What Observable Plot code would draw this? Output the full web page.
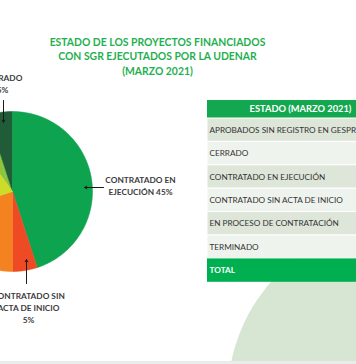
<!DOCTYPE html>
<html><head><meta charset="utf-8">
<script src="https://cdn.jsdelivr.net/npm/d3@7"></script>
<script src="https://cdn.jsdelivr.net/npm/@observablehq/plot@0.6"></script>
<style>html,body{margin:0;padding:0;background:#fff} svg{display:block}</style>
</head><body><div id="chart"></div>
<script>
// ---- data ----
const titleLines = ["ESTADO DE LOS PROYECTOS FINANCIADOS", "CON SGR EJECUTADOS POR LA UDENAR", "(MARZO 2021)"];
const categories = ["APROBADOS SIN REGISTRO EN GESPROY", "CERRADO", "CONTRATADO EN EJECUCIÓN", "CONTRATADO SIN ACTA DE INICIO", "EN PROCESO DE CONTRATACIÓN", "TERMINADO"];
const shares = [5, 5, 45, 5, 20, 20];
const sliceColors = ["#8cc63f", "#1f5c37", "#0ea34f", "#ee4b24", "#f58220", "#cddc29"];
const tableHeader = "ESTADO (MARZO 2021)";
const totalLabel = "TOTAL";
const pieLabelText = {1: "CERRADO\n5%", 2: "CONTRATADO EN\nEJECUCIÓN 45%", 3: "CONTRATADO SIN\nACTA DE INICIO\n5%"};

// ---- layout ----
const W = 356, H = 364;
const cx = 12, cy = 191, R = 80;
const font = "Lato, 'Open Sans', sans-serif";

const pie = d3.pie().sort(null).value(d => d)
  .startAngle(-0.2 * Math.PI).endAngle(1.8 * Math.PI)(shares);

const slicePts = pie.map((s, i) => {
  const pts = [{x: cx, y: cy, k: i}];
  const n = Math.max(2, Math.ceil((s.endAngle - s.startAngle) / (Math.PI / 180)));
  for (let j = 0; j <= n; j++) {
    const a = s.startAngle + (s.endAngle - s.startAngle) * j / n;
    pts.push({x: cx + R * Math.sin(a), y: cy - R * Math.cos(a), k: i});
  }
  pts.push({x: cx, y: cy, k: i});
  return pts;
});

// annotation layout (arrow tail -> tip, label anchor = top of first line)
const annos = [
  {i: 1, x1: 3, y1: 100, x2: 3, y2: 122, tx: 2, ty: 72},
  {i: 2, x1: 103, y1: 187, x2: 84, y2: 187, tx: 140, ty: 174},
  {i: 3, x1: 26, y1: 283, x2: 26, y2: 259, tx: 28, ty: 290}
].map(a => ({...a, text: pieLabelText[a.i]}));

// table layout
const tx0 = 207, tx1 = 400, headTop = 100, headBot = 118, rowH = 23.4;
const rows = categories.map((c, i) => ({
  label: c, y1: headBot + i * rowH, y2: headBot + (i + 1) * rowH,
  fill: i % 2 === 0 ? "#dde6d9" : "#eff3ee"
}));
const totalRow = {label: totalLabel, y1: headBot + categories.length * rowH, y2: headBot + (categories.length + 1) * rowH};

const marks = [
  // decorative background
  Plot.dot([{x: 403, y: 397}], {x: "x", y: "y", r: 176, fill: "#d6e6d3", stroke: "none"}),
  Plot.rect([{x1: 0, x2: W, y1: 361, y2: H}], {x1: "x1", x2: "x2", y1: "y1", y2: "y2", fill: "#e9ecea"}),
  // pie
  ...slicePts.map((pts, i) => Plot.line(pts, {x: "x", y: "y", fill: sliceColors[i], stroke: sliceColors[i], strokeWidth: 0.5, curve: "linear"})),
  // pie annotations
  Plot.arrow(annos, {x1: "x1", y1: "y1", x2: "x2", y2: "y2", stroke: "#1a1a1a", strokeWidth: 1, headLength: 4}),
  Plot.text(annos, {x: "tx", y: "ty", text: "text", fill: "#3c3c3c", fontSize: 8.3, fontWeight: "bold", fontFamily: font, lineHeight: 1.45, lineAnchor: "top", textAnchor: "middle"}),
  // title
  Plot.text(titleLines, {x: () => 157, y: (d, i) => 42 + i * 14.5, text: d => d, fill: "#1fb050", fontSize: 10.4, fontWeight: "bold", fontFamily: font, lineAnchor: "middle"}),
  // table
  Plot.rect([{y1: headTop, y2: headBot}], {x1: () => tx0, x2: () => tx1, y1: "y1", y2: "y2", fill: "#13a84f"}),
  Plot.text([tableHeader], {x: () => 300, y: () => (headTop + headBot) / 2, text: d => d, fill: "white", fontSize: 9.3, fontWeight: "bold", fontFamily: font, lineAnchor: "middle"}),
  Plot.rect(rows, {x1: () => tx0, x2: () => tx1, y1: "y1", y2: "y2", fill: "fill", stroke: "white", strokeWidth: 1}),
  Plot.text(rows, {x: () => 209, y: d => (d.y1 + d.y2) / 2, text: "label", textAnchor: "start", fill: "#333333", fontSize: 8.2, fontFamily: font, lineAnchor: "middle"}),
  Plot.rect([totalRow], {x1: () => tx0, x2: () => tx1, y1: "y1", y2: "y2", fill: "#00b050"}),
  Plot.text([totalRow], {x: () => 209, y: d => (d.y1 + d.y2) / 2, text: "label", textAnchor: "start", fill: "white", fontSize: 8.2, fontWeight: "bold", fontFamily: font, lineAnchor: "middle"})
];

const chart = Plot.plot({
  width: W, height: H, margin: 0,
  x: {domain: [0, W], range: [0, W], axis: null},
  y: {domain: [0, H], range: [0, H], axis: null},
  color: {type: "identity"},
  style: {background: "white", overflow: "hidden"},
  marks
});
document.getElementById("chart").appendChild(chart);
</script>
</body></html>
